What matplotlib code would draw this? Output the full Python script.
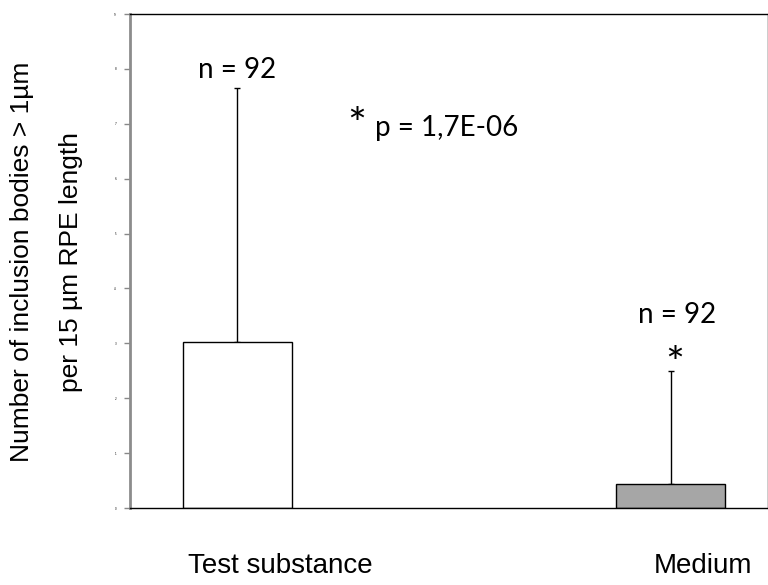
import matplotlib

matplotlib.use("Agg")
import matplotlib.pyplot as plt

categories = ["Test substance", "Medium"]
means = [3.02, 0.43]
upper_err = [4.63, 2.06]
n_labels = ["n = 92", "n = 92"]
p_label = "p = 1,7E-06"
y_ticks = list(range(10))
bar_colors = ["white", "#a6a6a6"]

fig = plt.figure(figsize=(7.68, 5.85), dpi=100)
ax = fig.add_axes([130 / 768, 1 - 508 / 585, 638 / 768, 494 / 585])

x = list(range(len(categories)))
ax.bar(x, means, width=0.252, color=bar_colors, edgecolor="black", linewidth=1.0, zorder=2)
ax.errorbar(x, means, yerr=[[0, 0], upper_err], fmt="none", ecolor="black",
            elinewidth=1.0, capsize=2.5, capthick=1.0, zorder=1)

ax.set_xlim(-0.248, 1.225)
ax.set_ylim(0, 9)
ax.set_yticks(y_ticks)
ax.set_yticklabels([str(t) for t in y_ticks], fontsize=2)
ax.tick_params(axis="y", length=4, color="#888888", width=1, pad=6)
ax.set_xticks([])

ax.spines["left"].set_color("#8c8c8c")
ax.spines["left"].set_linewidth(2)
for side in ["top", "bottom", "right"]:
    ax.spines[side].set_color("black")
    ax.spines[side].set_linewidth(1.0)

# annotations (Calibri-like face)
txt_font = ["Lato", "DejaVu Sans"]
ax.text(x[0], 7.98, n_labels[0], ha="center", va="center", fontsize=20, family=txt_font)
ax.text(1.016, 3.52, n_labels[1], ha="center", va="center", fontsize=20, family=txt_font)
ax.text(1.01, 2.6, "*", ha="center", va="center", fontsize=32, family=txt_font)
ax.text(0.276, 6.95, "*", ha="center", va="center", fontsize=32, family=txt_font)
ax.text(0.318, 6.92, p_label, ha="left", va="center", fontsize=20, family=txt_font)

label_font = ["Liberation Sans", "DejaVu Sans"]
fig.text(280 / 768, 1 - 566 / 585, categories[0], ha="center", va="center",
         fontsize=20, family=label_font)
fig.text(703 / 768, 1 - 566 / 585, categories[1], ha="center", va="center",
         fontsize=20, family=label_font)
fig.text(22 / 768, 1 - 262 / 585, "Number of inclusion bodies > 1µm", rotation=90,
         ha="center", va="center", fontsize=19, family=label_font)
fig.text(71 / 768, 1 - 262 / 585, "per 15 µm RPE length", rotation=90,
         ha="center", va="center", fontsize=19, family=label_font)

fig.savefig("out.png", dpi=100)
